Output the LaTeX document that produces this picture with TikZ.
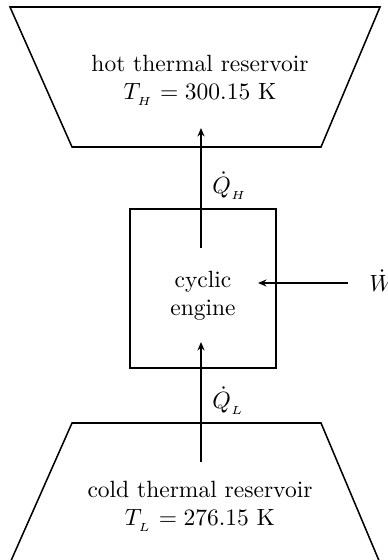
\documentclass[tikz,border=0pt]{standalone}
\usetikzlibrary{arrows.meta}
\begin{document}
\begin{tikzpicture}[x=0.4255pt,y=-0.4255pt,
  ln/.style={line width=0.65pt, line join=miter},
  flow/.style={line width=0.65pt, -{Stealth[length=3.6pt,width=3pt]}},
  lbl/.style={inner sep=0pt, align=center, font=\normalsize}]
\useasboundingbox (0,0) rectangle (387,560);
\begin{scope}
\clip (0,0) rectangle (387,560);
% hot reservoir
\draw[ln] (10,7) -- (380,7) -- (321,147) -- (72,147) -- cycle;
\node[lbl] (hot) at (200,80) {hot thermal reservoir\\ $T_{_H} = 300.15$ K};
\coordinate (hotin) at (201,128);
% engine
\draw[ln] (130,209) rectangle (276,368);
\node[lbl] (eng) at (203,296) {cyclic\\ engine};
\coordinate (engtop) at (201,248);
\coordinate (engbot) at (201,342);
\coordinate (engright) at (258,283);
% cold reservoir
\draw[ln] (72,423) -- (321,423) -- (380,563) -- (10,563) -- cycle;
\node[lbl] (cold) at (200,506) {cold thermal reservoir\\ $T_{_L} = 276.15$ K};
\coordinate (coldout) at (201,462);
% work
\coordinate (wstart) at (348,283);
\node[lbl, anchor=west] (w) at (369,281) {$\dot{W}$};
% flows
\draw[flow] (engtop) -- (hotin);
\draw[flow] (coldout) -- (engbot);
\draw[flow] (wstart) -- (engright);
\node[lbl, anchor=west] (qh) at (212,186) {$\dot{Q}_{_H}$};
\node[lbl, anchor=west] (ql) at (212,401) {$\dot{Q}_{_L}$};
\end{scope}
\end{tikzpicture}
\end{document}
